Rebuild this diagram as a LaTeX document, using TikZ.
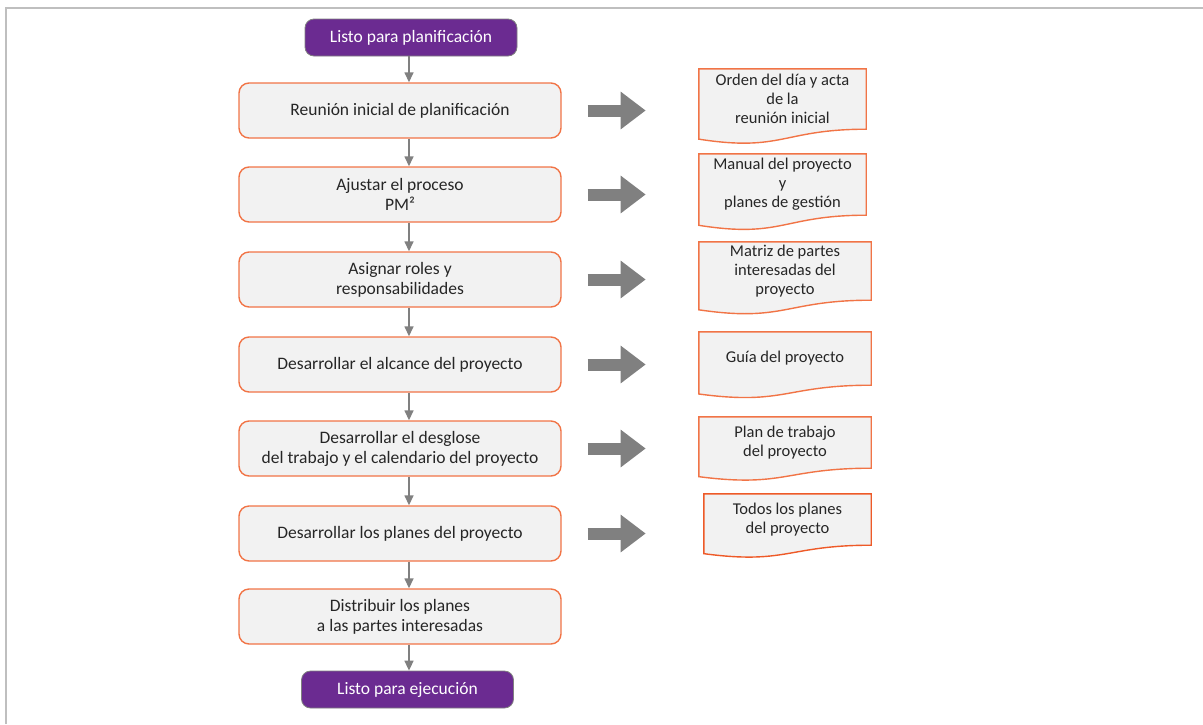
\documentclass[tikz,border=0pt]{standalone}
\usepackage{fontspec}
\setmainfont{Carlito}
\usetikzlibrary{positioning,arrows.meta,calc,backgrounds}
\definecolor{pm-purple}{RGB}{107,43,145}
\definecolor{pm-orange}{RGB}{241,116,70}
\definecolor{pm-deep}{RGB}{238,90,40}
\definecolor{pm-fill}{RGB}{242,242,242}
\definecolor{pm-gray}{RGB}{128,128,128}
\definecolor{pm-text}{RGB}{38,38,38}
\definecolor{pm-frame}{RGB}{191,191,191}

\begin{document}
\begin{tikzpicture}[
    x=1pt, y=-1pt,
    font=\fontsize{17.5}{20}\selectfont,
    terminal/.style={rectangle,rounded corners=9pt,draw=pm-gray,line width=0.8pt,fill=pm-purple,text=white,minimum width=212pt,minimum height=37pt,inner sep=0pt},
    activity/.style={rectangle,rounded corners=10pt,draw=pm-orange,line width=1.4pt,fill=pm-fill,text=pm-text,align=center,minimum width=322pt,minimum height=55pt,inner sep=0pt},
    output/.style={rectangle,text=pm-text,align=center,font=\fontsize{16.5}{19}\selectfont,inner sep=0pt},
    flow/.style={draw=pm-gray,line width=1.5pt,-{Triangle[length=10pt,width=9pt]}},
    bigarrow/.style={draw=pm-gray,line width=12pt,-{Triangle[length=25pt,width=36pt]}}
]
\useasboundingbox (0,0) rectangle (1203,724);
\draw[pm-frame,line width=2pt] (6,724) -- (6,8) -- (1203,8);

\coordinate (col) at (409,0);
\node[terminal] (start) at (411,37.5) {Listo para planificación};
\node[activity] (b1) at (400,110.5) {Reunión inicial de planificación};
\node[activity] (b2) at (400,194.5) {Ajustar el proceso\\PM²};
\node[activity] (b3) at (400,279.5) {Asignar roles y\\responsabilidades};
\node[activity] (b4) at (400,364.5) {Desarrollar el alcance del proyecto};
\node[activity] (b5) at (400,448.5) {Desarrollar el desglose\\del trabajo y el calendario del proyecto};
\node[activity] (b6) at (400,533.5) {Desarrollar los planes del proyecto};
\node[activity] (b7) at (400,616.5) {Distribuir los planes\\a las partes interesadas};
\node[terminal] (end) at (407.5,689.5) {Listo para ejecución};

\node[output,minimum width=167pt,minimum height=60pt] (d1) at (782.5,99) {Orden del día y acta\\de la\\reunión inicial};
\node[output,minimum width=167pt,minimum height=61pt] (d2) at (782.5,184.5) {Manual del proyecto\\y\\planes de gestión};
\node[output,minimum width=172pt,minimum height=58pt] (d3) at (785,271) {Matriz de partes\\interesadas del\\proyecto};
\node[output,minimum width=172pt,minimum height=53pt] (d4) at (785,358.5) {Guía del proyecto};
\node[output,minimum width=172pt,minimum height=51pt] (d5) at (785,442.5) {Plan de trabajo\\del proyecto};
\node[output,minimum width=167pt,minimum height=51pt] (d6) at (787.5,519.5) {Todos los planes\\del proyecto};

% document outlines with wavy bottom
\begin{scope}[on background layer]
\foreach \i/\c in {1/pm-orange,2/pm-orange,3/pm-orange,4/pm-orange,5/pm-orange,6/pm-deep}
    \filldraw[fill=pm-fill,draw=\c,line width=1.4pt]
        (d\i.north west) -- (d\i.north east) -- (d\i.south east)
        .. controls (d\i.south) and ($(d\i.north)!1.381!(d\i.south)$) ..
        ($(d\i.north west)!1.1646!(d\i.south west)$) -- cycle;
\end{scope}

% flow
\draw[flow] (start.south -| col) -- (b1.north -| col);
\foreach \a/\b in {b1/b2,b2/b3,b3/b4,b4/b5,b5/b6,b6/b7,b7/end}
    \draw[flow] (\a.south -| col) -- (\b.north -| col);

% outputs
\foreach \i in {1,...,6}
    \draw[bigarrow] ([xshift=26pt]b\i.east) -- ++(58,0);
\end{tikzpicture}
\end{document}
